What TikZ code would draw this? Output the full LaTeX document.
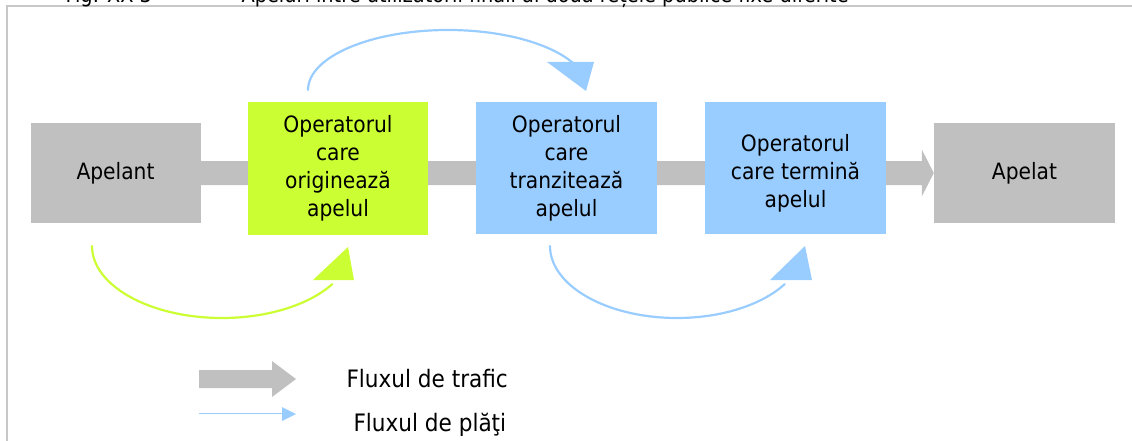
\documentclass[tikz,border=0pt]{standalone}
\usepackage{fontspec}
\setmainfont{DejaVu Sans Condensed}
\usetikzlibrary{backgrounds,calc}
\definecolor{boxgray}{HTML}{C0C0C0}
\definecolor{limeg}{HTML}{CCFF33}
\definecolor{skyb}{HTML}{99CCFF}
\definecolor{framec}{HTML}{C8C8C8}
\tikzset{
  box/.style={rectangle, draw=none, inner sep=0pt, align=center, font=\fontsize{22.5}{28}\selectfont},
  endbox/.style={box, fill=boxgray, minimum width=170pt, minimum height=100pt},
  opbox/.style={box, minimum width=181pt, minimum height=132pt},
  pay/.style={line width=2.2pt, line cap=round},
  legtext/.style={anchor=base west, font=\fontsize{24}{28}\selectfont},
  titletext/.style={anchor=base west, font=\fontsize{21.5}{24}\selectfont}
}
\begin{document}
\begin{tikzpicture}[x=1pt,y=-1pt]
\useasboundingbox (0,0) rectangle (1132,441);
% frame
\draw[framec, line width=1.6pt] (7,441) -- (7,6) -- (1132,6);
% title (cut off at the top)
\node[titletext] (fig) at (62,3) {Fig. XX-3};
\node[titletext] (title) at (238,3) {Apeluri între utilizatorii finali ai două rețele publice fixe diferite};
% boxes
\node[endbox] (apelant) at (115.5,173) {\raisebox{-2pt}{Apelant}};
\node[opbox, fill=limeg, minimum width=180pt, minimum height=133pt] (orig) at (338,168.5) {Operatorul\\care\\originează\\apelul};
\node[opbox, fill=skyb] (tranz) at (566.5,168) {Operatorul\\care\\tranzitează\\apelul};
\node[opbox, fill=skyb, label={[box, yshift=-5pt]center:{Operatorul\\care termină\\apelul}}] (term) at (795.5,168) {};
\node[endbox, minimum width=181pt] (apelat) at (1024.5,173) {\raisebox{-2pt}{Apelat}};
% traffic flow arrow behind boxes
\begin{scope}[on background layer]
\fill[boxgray] ([yshift=-12pt]apelant.east) -- ([xshift=-12pt,yshift=-12pt]apelat.west)
  -- ([xshift=-12pt,yshift=-23.5pt]apelat.west) -- (apelat.west)
  -- ([xshift=-12pt,yshift=23.5pt]apelat.west) -- ([xshift=-12pt,yshift=12pt]apelat.west)
  -- ([yshift=12pt]apelant.east) -- cycle;
\end{scope}
% payment arcs
\coordinate (p1s) at (308,90);
\draw[pay, skyb] (p1s) arc[start angle=180, end angle=335, x radius=140, y radius=60];
\fill[skyb] (547,62) -- (594,62) -- (586,91) -- cycle;
\coordinate (p2s) at (92,246);
\draw[pay, limeg] (p2s) arc[start angle=180, end angle=32, x radius=130, y radius=72];
\fill[limeg] (313,280) -- (354,280) -- (348,247) -- cycle;
\coordinate (p3s) at (550,246);
\draw[pay, skyb] (p3s) arc[start angle=180, end angle=32, x radius=127, y radius=72];
\fill[skyb] (770,280) -- (812,280) -- (805,246) -- cycle;
% legend
\fill[boxgray] (199,370) -- (272,370) -- (272,361) -- (296,379) -- (272,397) -- (272,388) -- (199,388) -- cycle;
\draw[skyb, line width=1.6pt] (199,413.5) -- (284,413.5);
\fill[skyb] (282,407) -- (296,414) -- (282,421) -- cycle;
\node[legtext] (leg1) at (343,387) {Fluxul de trafic};
\node[legtext] (leg2) at (350,431) {Fluxul de plăţi};
\end{tikzpicture}
\end{document}
